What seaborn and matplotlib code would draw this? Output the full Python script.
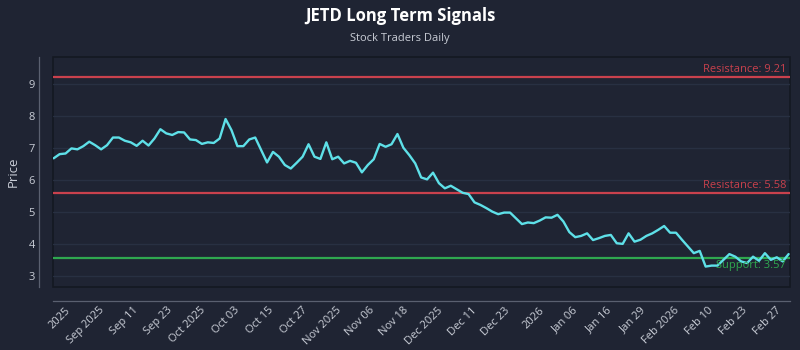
import numpy as np
import matplotlib
matplotlib.use("Agg")
import matplotlib.pyplot as plt
import seaborn as sns
import pandas as pd

# ---- data ----
prices = [
    6.68, 6.81, 6.83, 6.99, 6.96, 7.06, 7.20, 7.09, 6.96, 7.09,
    7.33, 7.33, 7.23, 7.18, 7.07, 7.23, 7.08, 7.30, 7.59, 7.46,
    7.41, 7.50, 7.49, 7.27, 7.25, 7.13, 7.18, 7.16, 7.30, 7.91,
    7.56, 7.06, 7.06, 7.27, 7.33, 6.94, 6.55, 6.88, 6.73, 6.47,
    6.36, 6.54, 6.73, 7.12, 6.73, 6.66, 7.18, 6.65, 6.73, 6.52,
    6.60, 6.54, 6.24, 6.47, 6.65, 7.13, 7.04, 7.12, 7.44, 7.01,
    6.78, 6.52, 6.08, 6.02, 6.23, 5.90, 5.74, 5.82, 5.71, 5.60,
    5.56, 5.30, 5.22, 5.12, 5.01, 4.93, 4.98, 4.98, 4.80, 4.62,
    4.67, 4.65, 4.73, 4.83, 4.82, 4.91, 4.70, 4.37, 4.21, 4.25,
    4.33, 4.12, 4.18, 4.25, 4.28, 4.02, 4.00, 4.33, 4.07, 4.13,
    4.25, 4.33, 4.44, 4.56, 4.35, 4.35, 4.13, 3.92, 3.71, 3.78,
    3.29, 3.32, 3.32, 3.50, 3.68, 3.60, 3.45, 3.40, 3.60, 3.47,
    3.71, 3.50, 3.58, 3.45, 3.68,
]
tick_labels = [
    "2025", "Sep 2025", "Sep 11", "Sep 23", "Oct 2025", "Oct 03", "Oct 15",
    "Oct 27", "Nov 2025", "Nov 06", "Nov 18", "Dec 2025", "Dec 11", "Dec 23",
    "2026", "Jan 06", "Jan 16", "Jan 29", "Feb 2026", "Feb 10", "Feb 23", "Feb 27",
]
resistance_levels = [9.21, 5.58]
support_levels = [3.57]
title = "JETD Long Term Signals"
subtitle = "Stock Traders Daily"

# ---- style ----
BG = "#1f2433"
AX_BG = "#1f2433"
TXT = "#c9cdd6"
LINE = "#5ee0e8"
RED = "#c9414d"
GREEN = "#2fa84f"

sns.set_theme(style="dark", rc={
    "figure.facecolor": BG,
    "axes.facecolor": AX_BG,
    "axes.edgecolor": "#5a6070",
    "grid.color": "#283042",
    "axes.grid": True,
    "text.color": TXT,
    "axes.labelcolor": TXT,
    "xtick.color": TXT,
    "ytick.color": TXT,
})
plt.rcParams["font.family"] = ["Open Sans", "DejaVu Sans"]

df = pd.DataFrame({"idx": np.arange(len(prices)), "price": prices})

fig = plt.figure(figsize=(8, 3.5), dpi=100)
ax = fig.add_axes([0.066, 0.18, 0.922, 0.657])

sns.lineplot(data=df, x="idx", y="price", ax=ax, color=LINE, linewidth=1.7)

for r in resistance_levels:
    ax.axhline(r, color=RED, linewidth=1.6, zorder=1)
    ax.annotate(f"Resistance: {r:.2f}", xy=(1.0, r), xycoords=("axes fraction", "data"),
                xytext=(-3, 1.5), textcoords="offset points", ha="right", va="bottom",
                color=RED, fontsize=8)
for s in support_levels:
    ax.axhline(s, color=GREEN, linewidth=1.6, zorder=1)
    ax.annotate(f"Support: {s:.2f}", xy=(1.0, s), xycoords=("axes fraction", "data"),
                xytext=(-3, -1.5), textcoords="offset points", ha="right", va="top",
                color=GREEN, fontsize=8)

n = len(prices)
ax.set_xlim(-0.15, n - 1 + 0.3)
ax.set_ylim(2.65, 9.85)
ax.set_yticks([3, 4, 5, 6, 7, 8, 9])
ax.set_xticks(np.linspace(3.2, n - 1.9, len(tick_labels)))
ax.set_xticklabels(tick_labels)
ax.tick_params(axis="both", length=0, labelsize=8)
ax.tick_params(axis="y", pad=3)
ax.tick_params(axis="x", pad=3)
ax.grid(axis="x", visible=False)
ax.set_xlabel("")
ax.set_ylabel("Price", fontsize=9.5, labelpad=6)

sns.despine(ax=ax, offset=10)
for sp in ("left", "bottom"):
    ax.spines[sp].set_visible(True)
    ax.spines[sp].set_color("#5a6070")
    ax.spines[sp].set_linewidth(0.9)
ax.patch.set_edgecolor("#141822")
ax.patch.set_linewidth(1.2)

for lab in ax.get_xticklabels():
    lab.set_rotation(45)
    lab.set_ha("right")
    lab.set_rotation_mode("default")

fig.text(0.5, 0.955, title, ha="center", va="center", fontsize=12,
         fontweight="bold", color="white")
fig.text(0.5, 0.89, subtitle, ha="center", va="center", fontsize=8, color=TXT)

fig.savefig("out.png", dpi=100, facecolor=BG)
